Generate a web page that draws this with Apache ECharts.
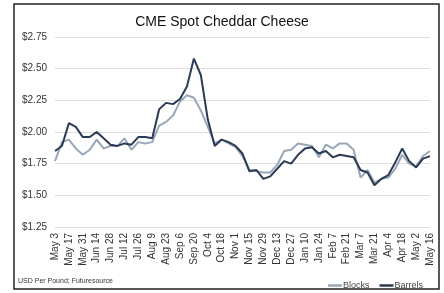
<!DOCTYPE html>
<html>
<head>
<meta charset="utf-8">
<script src="https://cdn.jsdelivr.net/npm/echarts@6/dist/echarts.min.js"></script>
<style>
  html, body { margin: 0; padding: 0; background: #fff; }
  #chart { width: 444px; height: 293px; }
</style>
</head>
<body>
<div id="chart"></div>
<script>
// weekly dates, May 3 .. May 16
var weeks = [
  'May 3', 'May 10', 'May 17', 'May 24', 'May 31', 'Jun 7', 'Jun 14', 'Jun 21', 'Jun 28',
  'Jul 5', 'Jul 12', 'Jul 19', 'Jul 26', 'Aug 2', 'Aug 9', 'Aug 16', 'Aug 23', 'Aug 30',
  'Sep 6', 'Sep 13', 'Sep 20', 'Sep 27', 'Oct 4', 'Oct 11', 'Oct 18', 'Oct 25',
  'Nov 1', 'Nov 8', 'Nov 15', 'Nov 22', 'Nov 29', 'Dec 6', 'Dec 13', 'Dec 20', 'Dec 27',
  'Jan 3', 'Jan 10', 'Jan 17', 'Jan 24', 'Jan 31', 'Feb 7', 'Feb 14', 'Feb 21', 'Feb 28',
  'Mar 7', 'Mar 14', 'Mar 21', 'Mar 28', 'Apr 4', 'Apr 11', 'Apr 18', 'Apr 25',
  'May 2', 'May 9', 'May 16'
]

var blocks = [
  1.77, 1.92, 1.94, 1.87, 1.82, 1.86, 1.94, 1.87, 1.89, 1.89, 1.95, 1.86, 1.92, 1.91, 1.92,
  2.05, 2.08, 2.13, 2.24, 2.29, 2.27, 2.17, 2.04, 1.91, 1.94, 1.91, 1.88, 1.81, 1.70, 1.69,
  1.68, 1.68, 1.74, 1.85, 1.86, 1.91, 1.90, 1.89, 1.80, 1.90, 1.87, 1.91, 1.91, 1.86, 1.64,
  1.70, 1.60, 1.63, 1.64, 1.71, 1.82, 1.75, 1.73, 1.81, 1.85
]

var barrels = [
  1.85, 1.89, 2.07, 2.04, 1.96, 1.96, 2.00, 1.95, 1.90, 1.89, 1.91, 1.90, 1.96, 1.96, 1.95,
  2.18, 2.23, 2.22, 2.26, 2.36, 2.58, 2.45, 2.10, 1.89, 1.94, 1.92, 1.89, 1.83, 1.69, 1.70,
  1.63, 1.65, 1.71, 1.77, 1.75, 1.82, 1.87, 1.88, 1.83, 1.85, 1.80, 1.82, 1.81, 1.80, 1.70,
  1.68, 1.58, 1.63, 1.66, 1.76, 1.87, 1.77, 1.72, 1.79, 1.81
]

var font = 'Liberation Sans, Arial, sans-serif'

var myChart = echarts.init(document.getElementById('chart'))

myChart.setOption({
  animation: false,
  title: {
    text: 'CME Spot Cheddar Cheese',
    left: 'center',
    top: 10,
    textStyle: { fontFamily: font, fontSize: 14, fontWeight: 'normal', color: '#111' }
  },
  graphic: [
    {
      type: 'rect',
      shape: { x: 14, y: 4, width: 425, height: 285 },
      style: { fill: 'none', stroke: '#222', lineWidth: 1.5 }
    },
    {
      type: 'text',
      left: 18,
      top: 278,
      style: { text: 'USD Per Pound; Futuresource', fontFamily: font, fontSize: 7, fill: '#333' }
    }
  ],
  legend: {
    right: 16,
    top: 276,
    icon: 'rect',
    itemWidth: 14,
    itemHeight: 2.5,
    itemGap: 10,
    textStyle: { fontFamily: font, fontSize: 9, color: '#444', padding: [0, 0, 0, -4] },
    data: ['Blocks', 'Barrels']
  },
  grid: { left: 55, right: 14, top: 37, bottom: 66 },
  xAxis: {
    type: 'category',
    data: weeks,
    boundaryGap: false,
    axisLine: { show: false },
    axisTick: { show: false },
    axisLabel: {
      interval: 1,
      rotate: 90,
      fontFamily: font,
      fontSize: 10,
      color: '#333',
      margin: 6
    }
  },
  yAxis: {
    type: 'value',
    min: 1.25,
    max: 2.75,
    interval: 0.25,
    axisLine: { show: false },
    axisTick: { show: false },
    splitLine: { lineStyle: { color: '#dedede', width: 1 } },
    axisLabel: {
      fontFamily: font,
      fontSize: 10,
      color: '#333',
      margin: 8,
      formatter: function (v) { return '$' + v.toFixed(2) }
    }
  },
  series: [
    {
      name: 'Blocks',
      type: 'line',
      data: blocks,
      symbol: 'none',
      lineStyle: { color: '#9aa7b6', width: 2 },
      itemStyle: { color: '#9aa7b6' }
    },
    {
      name: 'Barrels',
      type: 'line',
      data: barrels,
      symbol: 'none',
      lineStyle: { color: '#2c3b55', width: 2 },
      itemStyle: { color: '#2c3b55' }
    }
  ]
})
</script>
</body>
</html>
